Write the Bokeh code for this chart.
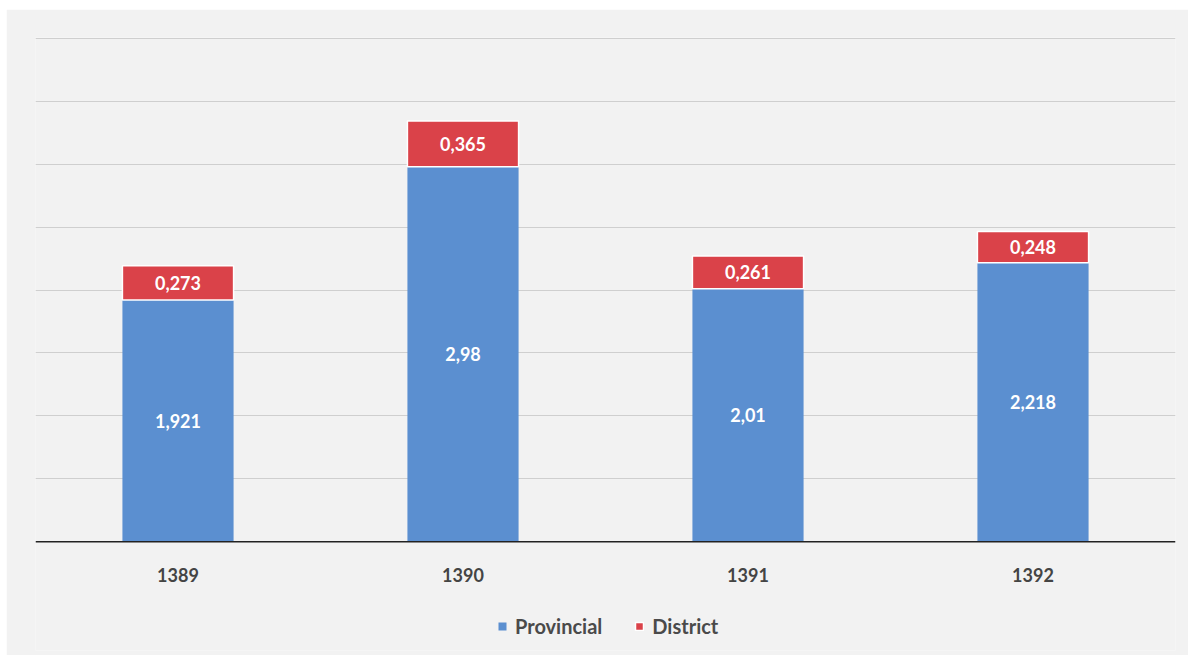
from bokeh.plotting import figure
from bokeh.models import ColumnDataSource, Legend, LegendItem, Range1d, FactorRange, FixedTicker, Span
from bokeh.embed import file_html
from bokeh.resources import INLINE
from bokeh.core.properties import value

years = ["1389", "1390", "1391", "1392"]
provincial = [1.921, 2.98, 2.01, 2.218]
district = [0.273, 0.365, 0.261, 0.248]
grid_values = [0.5, 1.0, 1.5, 2.0, 2.5, 3.0, 3.5, 4.0]

BLUE = "#5B8FD0"
RED = "#DA4249"
BG = "#f2f2f2"
LABEL_Y = -0.265  # position of category labels under the baseline


def fmt(v):
    return str(v).replace(".", ",")


src = ColumnDataSource(dict(
    year=years,
    prov=provincial,
    dist=district,
    total=[a + b for a, b in zip(provincial, district)],
    prov_mid=[a / 2 for a in provincial],
    dist_mid=[a + b / 2 for a, b in zip(provincial, district)],
    prov_lbl=[fmt(v) for v in provincial],
    dist_lbl=[fmt(v) for v in district],
    cat_y=[LABEL_Y] * len(years),
))

p = figure(
    x_range=FactorRange(*years),
    y_range=Range1d(-0.865, 4.008),
    width=1182, height=646,
    output_backend="svg", toolbar_location=None,
    min_border_left=29, min_border_right=13, min_border_top=28, min_border_bottom=5,
    margin=(9, 0, 0, 6),
)
p.background_fill_color = BG
p.border_fill_color = BG
p.outline_line_color = None

r1 = p.vbar(x="year", top="prov", bottom=0, width=0.39, source=src,
            fill_color=BLUE, line_color=None)
r2 = p.vbar(x="year", top="total", bottom="prov", width=0.39, source=src,
            fill_color=RED, line_color="white", line_width=1.5)

common = dict(text_align="center", text_baseline="middle", text_color="white",
              text_font=value("Lato"), text_font_style="bold", text_font_size="18px")
p.text(x="year", y="prov_mid", text="prov_lbl", source=src, **common)
p.text(x="year", y="dist_mid", text="dist_lbl", source=src, **common)

# category labels and baseline
p.text(x="year", y="cat_y", text="year", source=src, text_align="center",
       text_baseline="middle", text_color="#444444", text_font=value("Lato"),
       text_font_style="bold", text_font_size="18px")
p.add_layout(Span(location=0, dimension="width", line_color="#222222", line_width=1.5))

p.xaxis.visible = False
p.yaxis.visible = False
p.ygrid.ticker = FixedTicker(ticks=grid_values)
p.ygrid.grid_line_color = "#cfcfcf"
p.ygrid.grid_line_width = 1
p.xgrid.grid_line_color = None

legend = Legend(items=[LegendItem(label="Provincial", renderers=[r1]),
                       LegendItem(label="District", renderers=[r2])],
                orientation="horizontal", location=(462, 12))
legend.label_text_font = "Lato"
legend.label_text_font_size = "20px"
legend.label_text_font_style = "bold"
legend.label_text_color = "#4a4a4a"
legend.glyph_width = 10
legend.glyph_height = 10
legend.label_standoff = 8
legend.spacing = 32
legend.background_fill_alpha = 0
legend.border_line_color = None
legend.padding = 4
legend.margin = 0
p.add_layout(legend, "center")

open("out.html", "w").write(file_html(p, INLINE))
